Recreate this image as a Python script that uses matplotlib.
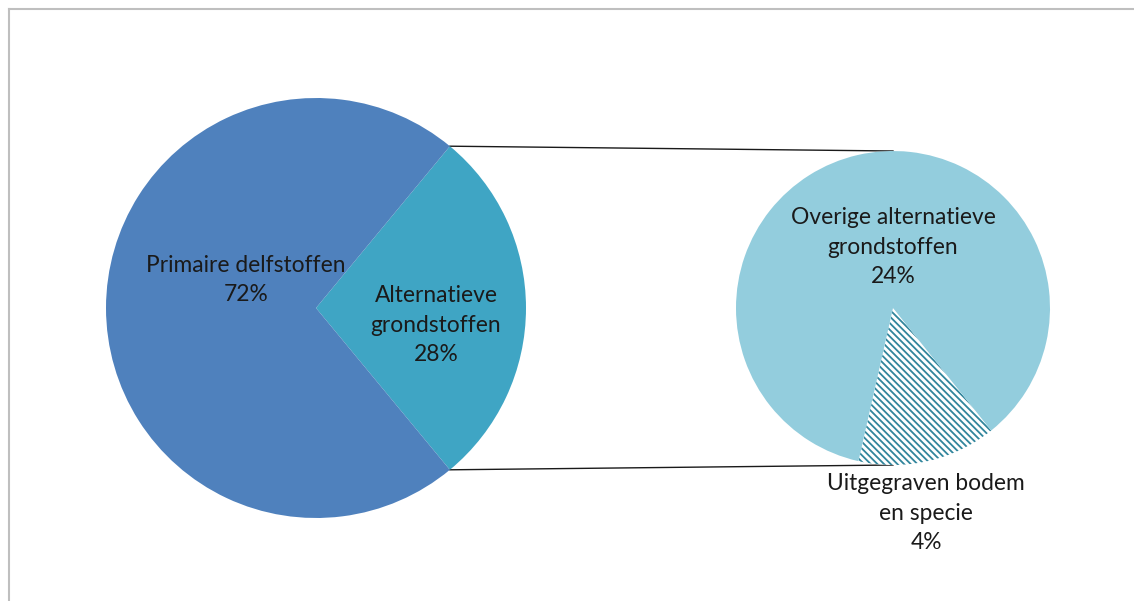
import matplotlib
matplotlib.use('Agg')
import matplotlib.pyplot as plt
import numpy as np

# Data
main_labels = ["Alternatieve\ngrondstoffen", "Primaire delfstoffen"]
main_values = [28, 72]
sub_labels = ["Uitgegraven bodem\nen specie", "Overige alternatieve\ngrondstoffen"]
sub_values = [4, 24]

# Layout (pixel-like coordinates, y up)
W, H = 1134, 601
LEFT_C, LEFT_R = (316, 293), 210
RIGHT_C, RIGHT_R = (893, 293), 157

plt.rcParams['font.family'] = ['Lato', 'DejaVu Sans']
plt.rcParams['hatch.linewidth'] = 1.3

fig = plt.figure(figsize=(W / 100, H / 100), dpi=100)
ax = fig.add_axes([0, 0, 1, 1])

# Main pie: the split-off slice centred on the right
main_start = -main_values[0] / sum(main_values) * 360 / 2
ax.pie(main_values, colors=['#3FA5C4', '#4F81BD'], startangle=main_start,
       center=LEFT_C, radius=LEFT_R, counterclock=True,
       wedgeprops=dict(linewidth=0), frame=True)

# Secondary pie: breakdown of the alternatieve grondstoffen
sub_start = -77 - sub_values[0] / sum(sub_values) * 360 / 2
wedges, _ = ax.pie(sub_values, colors=['white', '#93CDDD'], startangle=sub_start,
                   center=RIGHT_C, radius=RIGHT_R,
                   wedgeprops=dict(linewidth=0), frame=True)
wedges[0].set_hatch('\\' * 5)
wedges[0].set_edgecolor('#31859C')
wedges[0].set_linewidth(0)

ax.set_xlim(0, W)
ax.set_ylim(0, H)
ax.set_aspect('equal')
ax.axis('off')

# Connector lines
for ang in (np.radians(-main_start), np.radians(main_start)):
    x0 = LEFT_C[0] + LEFT_R * np.cos(ang)
    y0 = LEFT_C[1] + LEFT_R * np.sin(ang)
    y1 = RIGHT_C[1] + np.sign(np.sin(ang)) * RIGHT_R
    ax.plot([x0, RIGHT_C[0]], [y0, y1], color='#1a1a1a', lw=1.0, zorder=0)

# Labels
txt = dict(ha='center', va='center', fontsize=16.4, color='#1a1a1a', linespacing=1.5)
ax.text(246, H - 280, f"{main_labels[1]}\n{main_values[1]}%", **txt)
ax.text(436, H - 325, f"{main_labels[0]}\n{main_values[0]}%", **txt)
ax.text(893, H - 247, f"{sub_labels[1]}\n{sub_values[1]}%", **txt)
ax.text(926, H - 513, f"{sub_labels[0]}\n{sub_values[0]}%", **txt)

# Chart frame (partly cut off)
ax.plot([9, W], [H - 9, H - 9], color='#BFBFBF', lw=1.5)
ax.plot([9, 9], [H - 9, 0], color='#BFBFBF', lw=1.5)

fig.savefig('out.png', dpi=100)
